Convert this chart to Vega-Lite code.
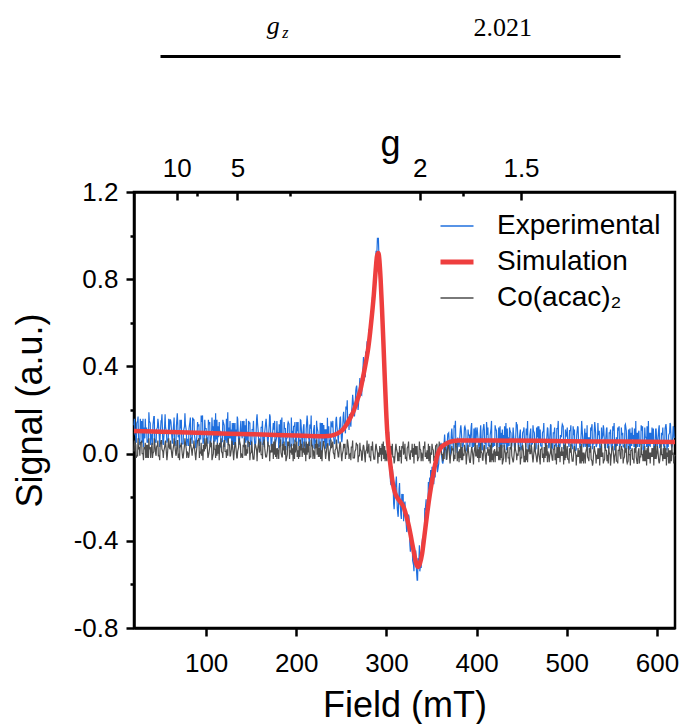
{
"$schema": "https://vega.github.io/schema/vega-lite/v6.json",
"autosize": {"type": "pad"},
"padding": {"left": 10, "top": 0, "right": 0, "bottom": 0},
"background": "white",
"spacing": 136,
"bounds": "flush",
"config": {"font": "Liberation Sans", "view": {"stroke": null},
 "axis": {"labelFont": "Liberation Sans", "titleFont": "Liberation Sans", "labelColor": "black", "titleColor": "black", "tickColor": "black", "domainColor": "black", "domainWidth": 2.5, "tickWidth": 2.5, "grid": false, "titleFontWeight": "normal", "labelFontSize": 26, "titleFontSize": 36, "labelOverlap": false, "labelFlush": false}},
"datasets": {
"spec": [
{"x":20,"e":0.13,"c":0.01},{"x":22,"e":0.08,"c":0.04},{"x":24,"e":0.15,"c":-0.01},{"x":26,"e":0.06,"c":0.03},{"x":28,"e":0.11,"c":0.05},{"x":30,"e":0.16,"c":0},{"x":32,"e":0.07,"c":0.02},{"x":34,"e":0.12,"c":0.04},{"x":36,"e":0.05,"c":-0.02},{"x":38,"e":0.14,"c":0.03},
{"x":40,"e":0.09,"c":0.05},{"x":42,"e":0.17,"c":0.01},{"x":44,"e":0.06,"c":0},{"x":46,"e":0.12,"c":0.04},{"x":48,"e":0.08,"c":-0.01},{"x":50,"e":0.15,"c":0.06},{"x":52,"e":0.05,"c":0.01},{"x":54,"e":0.13,"c":0.03},{"x":56,"e":0.10,"c":0},{"x":58,"e":0.07,"c":0.05},
{"x":60,"e":0.155,"c":0.02},{"x":62,"e":0.075,"c":-0.01},{"x":64,"e":0.135,"c":0.04},{"x":66,"e":0.055,"c":0.01},{"x":68,"e":0.185,"c":0.06},{"x":70,"e":0.085,"c":0},{"x":72,"e":0.115,"c":0.03},{"x":74,"e":0.045,"c":-0.02},{"x":76,"e":0.125,"c":0.04},{"x":78,"e":0.105,"c":0.02},
{"x":80,"e":0.065,"c":0},{"x":82,"e":0.145,"c":0.05},{"x":84,"e":0.075,"c":0.01},{"x":86,"e":0.155,"c":0.03},{"x":88,"e":0.055,"c":-0.01},{"x":90,"e":0.095,"c":0.04},{"x":92,"e":0.135,"c":0.07},{"x":94,"e":0.065,"c":0},{"x":96,"e":0.175,"c":0.02},{"x":98,"e":0.075,"c":0.01},
{"x":100,"e":0.115,"c":0.04},{"x":102,"e":0.045,"c":-0.02},{"x":104,"e":0.145,"c":0.03},{"x":106,"e":0.085,"c":0.05},{"x":108,"e":0.125,"c":0},{"x":110,"e":0.055,"c":0.02},{"x":112,"e":0.155,"c":-0.01},{"x":114,"e":0.075,"c":0.04},{"x":116,"e":0.105,"c":0.03},{"x":118,"e":0.055,"c":0},
{"x":120,"e":0.13,"c":0.06},{"x":122,"e":0.06,"c":0.01},{"x":124,"e":0.19,"c":-0.01},{"x":126,"e":0.07,"c":0.04},{"x":128,"e":0.11,"c":0.02},{"x":130,"e":0.04,"c":0},{"x":132,"e":0.14,"c":0.05},{"x":134,"e":0.08,"c":-0.02},{"x":136,"e":0.06,"c":0.03},{"x":138,"e":0.12,"c":0.04},
{"x":140,"e":0.07,"c":-0.01},{"x":142,"e":0.15,"c":0.03},{"x":144,"e":0.05,"c":0.04},{"x":146,"e":0.10,"c":0},{"x":148,"e":0.14,"c":0.05},{"x":150,"e":0.06,"c":0.005},{"x":152,"e":0.11,"c":-0.025},{"x":154,"e":0.04,"c":0.035},{"x":156,"e":0.16,"c":0.015},{"x":158,"e":0.09,"c":0.045},
{"x":160,"e":0.05,"c":0.025},{"x":162,"e":0.12,"c":-0.005},{"x":164,"e":0.08,"c":0.055},{"x":166,"e":0.14,"c":-0.015},{"x":168,"e":0.06,"c":0.015},{"x":170,"e":0.13,"c":0.035},{"x":172,"e":0.04,"c":0.005},{"x":174,"e":0.11,"c":0.045},{"x":176,"e":0.15,"c":-0.005},{"x":178,"e":0.07,"c":0.025},
{"x":180,"e":0.095,"c":0.005},{"x":182,"e":0.045,"c":0.045},{"x":184,"e":0.165,"c":-0.015},{"x":186,"e":0.055,"c":0.015},{"x":188,"e":0.115,"c":0.035},{"x":190,"e":0.075,"c":-0.005},{"x":192,"e":0.135,"c":0.055},{"x":194,"e":0.035,"c":0.005},{"x":196,"e":0.105,"c":0.025},{"x":198,"e":0.125,"c":-0.025},
{"x":200,"e":0.055,"c":0.035},{"x":202,"e":0.145,"c":0.015},{"x":204,"e":0.065,"c":-0.015},{"x":206,"e":0.085,"c":0.045},{"x":208,"e":0.125,"c":0.005},{"x":210,"e":0.045,"c":0.025},{"x":212,"e":0.175,"c":-0.005},{"x":214,"e":0.065,"c":0.055},{"x":216,"e":0.115,"c":-0.015},{"x":218,"e":0.035,"c":0.035},
{"x":220,"e":0.131,"c":-0.005},{"x":222,"e":0.051,"c":0.025},{"x":224,"e":0.10,"c":0.045},{"x":226,"e":0.04,"c":-0.015},{"x":228,"e":0.14,"c":0.015},{"x":230,"e":0.07,"c":0.055},{"x":232,"e":0.112,"c":0.005},{"x":234,"e":0.033,"c":0.035},{"x":236,"e":0.125,"c":-0.025},{"x":238,"e":0.067,"c":0.025},
{"x":240,"e":0.12,"c":0.045},{"x":242,"e":0.053,"c":-0.005},{"x":244,"e":0.157,"c":0.025},{"x":246,"e":0.084,"c":0.005},{"x":248,"e":0.122,"c":0.035},{"x":250,"e":0.07,"c":-0.015},{"x":252,"e":0.17,"c":0.015},{"x":254,"e":0.11,"c":0.045},{"x":256,"e":0.202,"c":-0.005},{"x":258,"e":0.155,"c":0.02},
{"x":260,"e":0.14,"c":0},{"x":262,"e":0.225,"c":0.03},{"x":264,"e":0.195,"c":-0.02},{"x":266,"e":0.29,"c":0.02},{"x":268,"e":0.235,"c":0.04},{"x":270,"e":0.31,"c":-0.01},{"x":272,"e":0.27,"c":0.01},{"x":274,"e":0.395,"c":0.03},{"x":276,"e":0.38,"c":-0.02},{"x":278,"e":0.47,"c":0.02},
{"x":280,"e":0.47,"c":0.025},{"x":282,"e":0.61,"c":-0.015},{"x":284,"e":0.63,"c":0.015},{"x":286,"e":0.79,"c":-0.025},{"x":288,"e":0.89,"c":0.035},{"x":290,"e":0.99,"c":0.005},{"x":292,"e":0.86,"c":-0.015},{"x":294,"e":0.80,"c":0.025},{"x":296,"e":0.54,"c":-0.005},{"x":298,"e":0.40,"c":0.035},
{"x":300,"e":0.14,"c":-0.025},{"x":302,"e":0.08,"c":0.015},{"x":304,"e":-0.08,"c":0.035},{"x":306,"e":-0.07,"c":-0.005},{"x":308,"e":-0.23,"c":-0.015},{"x":310,"e":-0.15,"c":0.025},{"x":312,"e":-0.25,"c":0.005},{"x":314,"e":-0.16,"c":-0.035},{"x":316,"e":-0.28,"c":0.015},{"x":318,"e":-0.22,"c":0.025},
{"x":320,"e":-0.23,"c":0.015},{"x":322,"e":-0.33,"c":-0.015},{"x":324,"e":-0.29,"c":0.035},{"x":326,"e":-0.42,"c":-0.025},{"x":328,"e":-0.39,"c":0.005},{"x":330,"e":-0.51,"c":0.025},{"x":332,"e":-0.48,"c":-0.005},{"x":334,"e":-0.58,"c":0.035},{"x":336,"e":-0.49,"c":-0.015},{"x":338,"e":-0.50,"c":0.015},
{"x":340,"e":-0.39,"c":-0.015},{"x":342,"e":-0.38,"c":0.025},{"x":344,"e":-0.21,"c":0.005},{"x":346,"e":-0.23,"c":-0.025},{"x":348,"e":-0.11,"c":0.035},{"x":350,"e":-0.14,"c":-0.005},{"x":352,"e":-0.06,"c":0.015},{"x":354,"e":-0.11,"c":-0.015},{"x":356,"e":0,"c":0.045},{"x":358,"e":-0.045,"c":-0.005},
{"x":360,"e":0.015,"c":0.025},{"x":362,"e":-0.04,"c":-0.005},{"x":364,"e":0.055,"c":-0.025},{"x":366,"e":0.01,"c":0.015},{"x":368,"e":0.09,"c":0.035},{"x":370,"e":0.02,"c":-0.015},{"x":372,"e":0.095,"c":0.005},{"x":374,"e":0.038,"c":0.025},{"x":376,"e":0.12,"c":-0.025},{"x":378,"e":0.032,"c":0.045},
{"x":380,"e":0.045,"c":0.01},{"x":382,"e":0.115,"c":-0.02},{"x":384,"e":0.035,"c":0.03},{"x":386,"e":0.075,"c":-0.01},{"x":388,"e":0.105,"c":0},{"x":390,"e":0.025,"c":0.02},{"x":392,"e":0.085,"c":-0.03},{"x":394,"e":0.125,"c":0.01},{"x":396,"e":0.055,"c":-0.02},{"x":398,"e":0.035,"c":0.03},
{"x":400,"e":0.105,"c":-0.01},{"x":402,"e":0.045,"c":0.02},{"x":404,"e":0.095,"c":-0.02},{"x":406,"e":0.015,"c":0},{"x":408,"e":0.135,"c":0.03},{"x":410,"e":0.055,"c":-0.03},{"x":412,"e":0.085,"c":0.01},{"x":414,"e":0.035,"c":0.02},{"x":416,"e":0.115,"c":-0.04},{"x":418,"e":0.065,"c":0},
{"x":420,"e":0.035,"c":0.02},{"x":422,"e":0.105,"c":-0.01},{"x":424,"e":0.055,"c":0.01},{"x":426,"e":0.125,"c":-0.03},{"x":428,"e":0.025,"c":0.04},{"x":430,"e":0.085,"c":-0.02},{"x":432,"e":0.045,"c":0},{"x":434,"e":0.115,"c":0.01},{"x":436,"e":0.035,"c":-0.02},{"x":438,"e":0.095,"c":0.02},
{"x":440,"e":0.075,"c":-0.03},{"x":442,"e":0.025,"c":0.02},{"x":444,"e":0.145,"c":0},{"x":446,"e":0.045,"c":-0.01},{"x":448,"e":0.095,"c":0.03},{"x":450,"e":0.035,"c":-0.02},{"x":452,"e":0.105,"c":0.01},{"x":454,"e":0.055,"c":-0.04},{"x":456,"e":0.085,"c":0.02},{"x":458,"e":0.015,"c":0.01},
{"x":460,"e":0.115,"c":0},{"x":462,"e":0.045,"c":-0.02},{"x":464,"e":0.095,"c":0.03},{"x":466,"e":0.025,"c":-0.01},{"x":468,"e":0.125,"c":0.01},{"x":470,"e":0.065,"c":-0.03},{"x":472,"e":0.035,"c":0.02},{"x":474,"e":0.105,"c":0},{"x":476,"e":0.045,"c":-0.02},{"x":478,"e":0.085,"c":0.04},
{"x":480,"e":0.025,"c":-0.01},{"x":482,"e":0.135,"c":0.01},{"x":484,"e":0.055,"c":-0.03},{"x":486,"e":0.095,"c":0.02},{"x":488,"e":0.035,"c":0},{"x":490,"e":0.115,"c":-0.02},{"x":492,"e":0.045,"c":0.03},{"x":494,"e":0.075,"c":-0.01},{"x":496,"e":0.125,"c":0.01},{"x":498,"e":0.025,"c":-0.03},
{"x":500,"e":0.095,"c":0.015},{"x":502,"e":0.045,"c":-0.025},{"x":504,"e":0.105,"c":0.005},{"x":506,"e":0.035,"c":-0.035},{"x":508,"e":0.085,"c":0.025},{"x":510,"e":0.015,"c":-0.005},{"x":512,"e":0.125,"c":-0.015},{"x":514,"e":0.055,"c":0.015},{"x":516,"e":0.095,"c":-0.045},{"x":518,"e":0.045,"c":0.005},
{"x":520,"e":0.115,"c":-0.015},{"x":522,"e":0.035,"c":0.025},{"x":524,"e":0.075,"c":-0.025},{"x":526,"e":0.025,"c":0.005},{"x":528,"e":0.135,"c":-0.035},{"x":530,"e":0.045,"c":0.015},{"x":532,"e":0.095,"c":-0.005},{"x":534,"e":0.055,"c":-0.025},{"x":536,"e":0.105,"c":0.025},{"x":538,"e":0.035,"c":-0.015},
{"x":540,"e":0.085,"c":0.005},{"x":542,"e":0.025,"c":-0.025},{"x":544,"e":0.115,"c":0.015},{"x":546,"e":0.045,"c":-0.045},{"x":548,"e":0.095,"c":-0.005},{"x":550,"e":0.015,"c":0.025},{"x":552,"e":0.105,"c":-0.015},{"x":554,"e":0.065,"c":0.005},{"x":556,"e":0.035,"c":-0.035},{"x":558,"e":0.125,"c":0.015},
{"x":560,"e":0.045,"c":-0.025},{"x":562,"e":0.095,"c":0.015},{"x":564,"e":0.025,"c":-0.015},{"x":566,"e":0.105,"c":0.025},{"x":568,"e":0.055,"c":-0.035},{"x":570,"e":0.115,"c":-0.005},{"x":572,"e":0.035,"c":0.015},{"x":574,"e":0.085,"c":-0.025},{"x":576,"e":0.015,"c":0.005},{"x":578,"e":0.095,"c":-0.045},
{"x":580,"e":0.105,"c":0.025},{"x":582,"e":0.045,"c":-0.015},{"x":584,"e":0.125,"c":-0.005},{"x":586,"e":0.035,"c":-0.035},{"x":588,"e":0.075,"c":0.015},{"x":590,"e":0.025,"c":-0.025},{"x":592,"e":0.095,"c":0.005},{"x":594,"e":0.055,"c":-0.015},{"x":596,"e":0.115,"c":0.025},{"x":598,"e":0.045,"c":-0.025},
{"x":600,"e":0.035,"c":0.005},{"x":602,"e":0.115,"c":-0.035},{"x":604,"e":0.055,"c":0.015},{"x":606,"e":0.085,"c":-0.005},{"x":608,"e":0.025,"c":-0.025},{"x":610,"e":0.135,"c":0.025},{"x":612,"e":0.045,"c":-0.015},{"x":614,"e":0.095,"c":0.015},{"x":616,"e":0.035,"c":-0.035},{"x":618,"e":0.125,"c":0.005},
{"x":620,"e":0.075,"c":-0.005},
{"x":21,"e":0.09,"c":0.04},{"x":23,"e":0.14,"c":-0.01},{"x":25,"e":0.07,"c":0.02},{"x":27,"e":0.16,"c":0.05},{"x":29,"e":0.05,"c":0},{"x":31,"e":0.12,"c":0.03},{"x":33,"e":0.10,"c":-0.02},{"x":35,"e":0.06,"c":0.04},{"x":37,"e":0.15,"c":0.02},{"x":39,"e":0.08,"c":0.01},
{"x":41,"e":0.13,"c":0},{"x":43,"e":0.05,"c":0.05},{"x":45,"e":0.11,"c":0.03},{"x":47,"e":0.14,"c":-0.01},{"x":49,"e":0.08,"c":0.04},{"x":51,"e":0.18,"c":0.02},{"x":53,"e":0.07,"c":0.01},{"x":55,"e":0.12,"c":0.06},{"x":57,"e":0.06,"c":-0.01},{"x":59,"e":0.10,"c":0.03},
{"x":61,"e":0.145,"c":0.03},{"x":63,"e":0.085,"c":0.01},{"x":65,"e":0.055,"c":0.05},{"x":67,"e":0.125,"c":0},{"x":69,"e":0.075,"c":-0.02},{"x":71,"e":0.155,"c":0.04},{"x":73,"e":0.045,"c":0.02},{"x":75,"e":0.105,"c":0},{"x":77,"e":0.135,"c":0.05},{"x":79,"e":0.065,"c":0.01},
{"x":81,"e":0.115,"c":-0.01},{"x":83,"e":0.065,"c":0.04},{"x":85,"e":0.165,"c":0.02},{"x":87,"e":0.085,"c":0.03},{"x":89,"e":0.045,"c":0},{"x":91,"e":0.125,"c":0.06},{"x":93,"e":0.095,"c":0.01},{"x":95,"e":0.145,"c":-0.01},{"x":97,"e":0.055,"c":0.04},{"x":99,"e":0.115,"c":0.02},
{"x":101,"e":0.075,"c":0.05},{"x":103,"e":0.135,"c":0},{"x":105,"e":0.045,"c":0.03},{"x":107,"e":0.105,"c":-0.02},{"x":109,"e":0.155,"c":0.02},{"x":111,"e":0.065,"c":0.04},{"x":113,"e":0.125,"c":0},{"x":115,"e":0.085,"c":0.05},{"x":117,"e":0.055,"c":0.01},{"x":119,"e":0.145,"c":0.03},
{"x":121,"e":0.09,"c":0.01},{"x":123,"e":0.05,"c":0.02},{"x":125,"e":0.12,"c":0.04},{"x":127,"e":0.07,"c":-0.01},{"x":129,"e":0.14,"c":0.05},{"x":131,"e":0.04,"c":0},{"x":133,"e":0.11,"c":0.03},{"x":135,"e":0.16,"c":0.01},{"x":137,"e":0.06,"c":0.06},{"x":139,"e":0.10,"c":0},
{"x":141,"e":0.08,"c":0.04},{"x":143,"e":0.13,"c":-0.01},{"x":145,"e":0.06,"c":0.02},{"x":147,"e":0.15,"c":0.05},{"x":149,"e":0.04,"c":0},{"x":151,"e":0.11,"c":0.025},{"x":153,"e":0.09,"c":-0.025},{"x":155,"e":0.05,"c":0.035},{"x":157,"e":0.14,"c":0.015},{"x":159,"e":0.07,"c":0.005},
{"x":161,"e":0.12,"c":-0.005},{"x":163,"e":0.04,"c":0.045},{"x":165,"e":0.10,"c":0.025},{"x":167,"e":0.13,"c":-0.015},{"x":169,"e":0.07,"c":0.035},{"x":171,"e":0.17,"c":0.015},{"x":173,"e":0.06,"c":0.005},{"x":175,"e":0.11,"c":0.055},{"x":177,"e":0.05,"c":-0.015},{"x":179,"e":0.09,"c":0.025},
{"x":181,"e":0.135,"c":0.025},{"x":183,"e":0.075,"c":0.005},{"x":185,"e":0.045,"c":0.045},{"x":187,"e":0.115,"c":-0.005},{"x":189,"e":0.065,"c":-0.025},{"x":191,"e":0.145,"c":0.035},{"x":193,"e":0.035,"c":0.015},{"x":195,"e":0.095,"c":-0.005},{"x":197,"e":0.125,"c":0.045},{"x":199,"e":0.055,"c":0.005},
{"x":201,"e":0.103,"c":-0.015},{"x":203,"e":0.053,"c":0.035},{"x":205,"e":0.153,"c":0.015},{"x":207,"e":0.073,"c":0.025},{"x":209,"e":0.033,"c":-0.005},{"x":211,"e":0.113,"c":0.055},{"x":213,"e":0.083,"c":0.005},{"x":215,"e":0.133,"c":-0.015},{"x":217,"e":0.043,"c":0.035},{"x":219,"e":0.103,"c":0.015},
{"x":221,"e":0.061,"c":0.045},{"x":223,"e":0.12,"c":-0.005},{"x":225,"e":0.03,"c":0.025},{"x":227,"e":0.09,"c":-0.025},{"x":229,"e":0.14,"c":0.015},{"x":231,"e":0.051,"c":0.035},{"x":233,"e":0.112,"c":-0.005},{"x":235,"e":0.074,"c":0.045},{"x":237,"e":0.046,"c":0.005},{"x":239,"e":0.138,"c":0.025},
{"x":241,"e":0.091,"c":0.005},{"x":243,"e":0.055,"c":0.015},{"x":245,"e":0.13,"c":0.035},{"x":247,"e":0.088,"c":-0.015},{"x":249,"e":0.166,"c":0.045},{"x":251,"e":0.075,"c":-0.005},{"x":253,"e":0.155,"c":0.025},{"x":255,"e":0.216,"c":0.005},{"x":257,"e":0.128,"c":0.055},{"x":259,"e":0.182,"c":-0.005},
{"x":261,"e":0.177,"c":0.03},{"x":263,"e":0.245,"c":-0.02},{"x":265,"e":0.197,"c":0.01},{"x":267,"e":0.312,"c":0.04},{"x":269,"e":0.227,"c":-0.01},{"x":271,"e":0.325,"c":0.02},{"x":273,"e":0.337,"c":-0.03},{"x":275,"e":0.332,"c":0.03},{"x":277,"e":0.465,"c":0.01},{"x":279,"e":0.45,"c":0},
{"x":281,"e":0.565,"c":-0.015},{"x":283,"e":0.56,"c":0.035},{"x":285,"e":0.705,"c":0.015},{"x":287,"e":0.84,"c":-0.025},{"x":289,"e":0.88,"c":0.025},{"x":291,"e":0.99,"c":0.005},{"x":293,"e":0.80,"c":-0.005},{"x":295,"e":0.69,"c":0.045},{"x":297,"e":0.44,"c":-0.025},{"x":299,"e":0.27,"c":0.015},
{"x":301,"e":0.17,"c":0.015},{"x":303,"e":-0.025,"c":-0.005},{"x":305,"e":-0.145,"c":0.035},{"x":307,"e":-0.095,"c":-0.015},{"x":309,"e":-0.21,"c":-0.035},{"x":311,"e":-0.105,"c":0.025},{"x":313,"e":-0.29,"c":0.005},{"x":315,"e":-0.21,"c":-0.015},{"x":317,"e":-0.185,"c":0.035},{"x":319,"e":-0.31,"c":-0.005},
{"x":321,"e":-0.265,"c":-0.025},{"x":323,"e":-0.35,"c":0.025},{"x":325,"e":-0.29,"c":0.005},{"x":327,"e":-0.41,"c":0.015},{"x":329,"e":-0.49,"c":-0.015},{"x":331,"e":-0.45,"c":0.045},{"x":333,"e":-0.515,"c":-0.005},{"x":335,"e":-0.48,"c":-0.025},{"x":337,"e":-0.54,"c":0.025},{"x":339,"e":-0.43,"c":0.005},
{"x":341,"e":-0.40,"c":0.035},{"x":343,"e":-0.26,"c":-0.015},{"x":345,"e":-0.28,"c":0.015},{"x":347,"e":-0.165,"c":-0.035},{"x":349,"e":-0.075,"c":0.005},{"x":351,"e":-0.135,"c":0.025},{"x":353,"e":-0.045,"c":-0.015},{"x":355,"e":-0.06,"c":0.035},{"x":357,"e":-0.072,"c":-0.005},{"x":359,"e":0.03,"c":0.015},
{"x":361,"e":-0.008,"c":-0.005},{"x":363,"e":-0.032,"c":0.005},{"x":365,"e":0.052,"c":0.025},{"x":367,"e":0.015,"c":-0.025},{"x":369,"e":0.095,"c":0.035},{"x":371,"e":0.002,"c":-0.015},{"x":373,"e":0.076,"c":0.015},{"x":375,"e":0.13,"c":-0.005},{"x":377,"e":0.032,"c":0.045},{"x":379,"e":0.074,"c":-0.015},
{"x":381,"e":0.055,"c":0.02},{"x":383,"e":0.105,"c":-0.03},{"x":385,"e":0.035,"c":0},{"x":387,"e":0.125,"c":0.03},{"x":389,"e":0.015,"c":-0.02},{"x":391,"e":0.085,"c":0.01},{"x":393,"e":0.065,"c":-0.04},{"x":395,"e":0.025,"c":0.02},{"x":397,"e":0.115,"c":0},{"x":399,"e":0.045,"c":-0.01},
{"x":401,"e":0.095,"c":-0.02},{"x":403,"e":0.015,"c":0.03},{"x":405,"e":0.075,"c":0.01},{"x":407,"e":0.105,"c":-0.03},{"x":409,"e":0.045,"c":0.02},{"x":411,"e":0.145,"c":0},{"x":413,"e":0.035,"c":-0.01},{"x":415,"e":0.085,"c":0.04},{"x":417,"e":0.025,"c":-0.03},{"x":419,"e":0.065,"c":0.01},
{"x":421,"e":0.115,"c":0.01},{"x":423,"e":0.055,"c":-0.01},{"x":425,"e":0.025,"c":0.03},{"x":427,"e":0.095,"c":-0.02},{"x":429,"e":0.045,"c":-0.04},{"x":431,"e":0.125,"c":0.02},{"x":433,"e":0.015,"c":0},{"x":435,"e":0.075,"c":-0.02},{"x":437,"e":0.105,"c":0.03},{"x":439,"e":0.035,"c":-0.01},
{"x":441,"e":0.085,"c":-0.03},{"x":443,"e":0.035,"c":0.02},{"x":445,"e":0.135,"c":0},{"x":447,"e":0.055,"c":0.01},{"x":449,"e":0.015,"c":-0.02},{"x":451,"e":0.095,"c":0.04},{"x":453,"e":0.065,"c":-0.01},{"x":455,"e":0.115,"c":-0.03},{"x":457,"e":0.025,"c":0.02},{"x":459,"e":0.085,"c":0},
{"x":461,"e":0.045,"c":0.03},{"x":463,"e":0.105,"c":-0.02},{"x":465,"e":0.015,"c":0.01},{"x":467,"e":0.075,"c":-0.04},{"x":469,"e":0.125,"c":0},{"x":471,"e":0.035,"c":0.02},{"x":473,"e":0.095,"c":-0.02},{"x":475,"e":0.055,"c":0.03},{"x":477,"e":0.025,"c":-0.01},{"x":479,"e":0.115,"c":0.01},
{"x":481,"e":0.065,"c":-0.01},{"x":483,"e":0.025,"c":0},{"x":485,"e":0.095,"c":0.02},{"x":487,"e":0.045,"c":-0.03},{"x":489,"e":0.115,"c":0.03},{"x":491,"e":0.015,"c":-0.02},{"x":493,"e":0.085,"c":0.01},{"x":495,"e":0.135,"c":-0.01},{"x":497,"e":0.035,"c":0.04},{"x":499,"e":0.075,"c":-0.02},
{"x":501,"e":0.055,"c":-0.025},{"x":503,"e":0.105,"c":0.025},{"x":505,"e":0.035,"c":0.005},{"x":507,"e":0.125,"c":-0.035},{"x":509,"e":0.015,"c":0.015},{"x":511,"e":0.085,"c":-0.005},{"x":513,"e":0.065,"c":-0.015},{"x":515,"e":0.025,"c":0.035},{"x":517,"e":0.115,"c":-0.035},{"x":519,"e":0.045,"c":0.005},
{"x":521,"e":0.095,"c":0.005},{"x":523,"e":0.015,"c":-0.015},{"x":525,"e":0.075,"c":0.025},{"x":527,"e":0.105,"c":-0.025},{"x":529,"e":0.045,"c":-0.045},{"x":531,"e":0.145,"c":0.015},{"x":533,"e":0.035,"c":-0.005},{"x":535,"e":0.085,"c":-0.025},{"x":537,"e":0.025,"c":0.025},{"x":539,"e":0.065,"c":-0.015},
{"x":541,"e":0.115,"c":-0.035},{"x":543,"e":0.055,"c":0.015},{"x":545,"e":0.025,"c":-0.005},{"x":547,"e":0.095,"c":0.005},{"x":549,"e":0.045,"c":-0.025},{"x":551,"e":0.125,"c":0.035},{"x":553,"e":0.015,"c":-0.015},{"x":555,"e":0.075,"c":-0.035},{"x":557,"e":0.105,"c":0.015},{"x":559,"e":0.035,"c":-0.005},
{"x":561,"e":0.085,"c":0.025},{"x":563,"e":0.035,"c":-0.025},{"x":565,"e":0.135,"c":0.005},{"x":567,"e":0.055,"c":-0.045},{"x":569,"e":0.015,"c":-0.005},{"x":571,"e":0.095,"c":0.015},{"x":573,"e":0.065,"c":-0.025},{"x":575,"e":0.115,"c":0.025},{"x":577,"e":0.025,"c":-0.015},{"x":579,"e":0.085,"c":0.005},
{"x":581,"e":0.045,"c":-0.015},{"x":583,"e":0.105,"c":-0.005},{"x":585,"e":0.015,"c":0.015},{"x":587,"e":0.075,"c":-0.035},{"x":589,"e":0.125,"c":0.025},{"x":591,"e":0.035,"c":-0.025},{"x":593,"e":0.095,"c":0.005},{"x":595,"e":0.055,"c":-0.015},{"x":597,"e":0.025,"c":0.035},{"x":599,"e":0.115,"c":-0.025},
{"x":601,"e":0.065,"c":0.015},{"x":603,"e":0.025,"c":-0.035},{"x":605,"e":0.095,"c":-0.005},{"x":607,"e":0.045,"c":0.025},{"x":609,"e":0.115,"c":-0.025},{"x":611,"e":0.015,"c":0.005},{"x":613,"e":0.085,"c":-0.045},{"x":615,"e":0.135,"c":0.015},{"x":617,"e":0.035,"c":-0.005},{"x":619,"e":0.075,"c":-0.015},
{"x":20.5,"e":0.16,"c":0.06},{"x":22.5,"e":0.05,"c":-0.02},{"x":24.5,"e":0.17,"c":0.07},{"x":26.5,"e":0.04,"c":-0.01},{"x":28.5,"e":0.15,"c":0.06},{"x":30.5,"e":0.03,"c":-0.03},{"x":32.5,"e":0.16,"c":0.05},{"x":34.5,"e":0.05,"c":-0.02},{"x":36.5,"e":0.19,"c":0.07},{"x":38.5,"e":0.04,"c":-0.02},
{"x":40.5,"e":0.04,"c":-0.02},{"x":42.5,"e":0.17,"c":0.07},{"x":44.5,"e":0.05,"c":-0.01},{"x":46.5,"e":0.16,"c":0.06},{"x":48.5,"e":0.03,"c":-0.03},{"x":50.5,"e":0.15,"c":0.06},{"x":52.5,"e":0.04,"c":-0.02},{"x":54.5,"e":0.18,"c":0.05},{"x":56.5,"e":0.05,"c":-0.03},{"x":58.5,"e":0.16,"c":0.07},
{"x":60.5,"e":0.155,"c":0.06},{"x":62.5,"e":0.045,"c":-0.02},{"x":64.5,"e":0.165,"c":0.07},{"x":66.5,"e":0.035,"c":-0.01},{"x":68.5,"e":0.145,"c":0.06},{"x":70.5,"e":0.025,"c":-0.03},{"x":72.5,"e":0.155,"c":0.05},{"x":74.5,"e":0.045,"c":-0.02},{"x":76.5,"e":0.185,"c":0.07},{"x":78.5,"e":0.035,"c":-0.02},
{"x":80.5,"e":0.035,"c":-0.02},{"x":82.5,"e":0.165,"c":0.07},{"x":84.5,"e":0.045,"c":-0.01},{"x":86.5,"e":0.155,"c":0.06},{"x":88.5,"e":0.025,"c":-0.03},{"x":90.5,"e":0.145,"c":0.06},{"x":92.5,"e":0.035,"c":-0.02},{"x":94.5,"e":0.175,"c":0.05},{"x":96.5,"e":0.045,"c":-0.03},{"x":98.5,"e":0.155,"c":0.07},
{"x":100.5,"e":0.045,"c":0.07},{"x":102.5,"e":0.155,"c":-0.01},{"x":104.5,"e":0.035,"c":0.06},{"x":106.5,"e":0.165,"c":-0.03},{"x":108.5,"e":0.045,"c":0.06},{"x":110.5,"e":0.185,"c":-0.02},{"x":112.5,"e":0.035,"c":0.05},{"x":114.5,"e":0.145,"c":-0.03},{"x":116.5,"e":0.025,"c":0.07},{"x":118.5,"e":0.155,"c":-0.02},
{"x":120.5,"e":0.03,"c":0.06},{"x":122.5,"e":0.16,"c":-0.02},{"x":124.5,"e":0.04,"c":0.07},{"x":126.5,"e":0.15,"c":-0.01},{"x":128.5,"e":0.02,"c":0.06},{"x":130.5,"e":0.14,"c":-0.03},{"x":132.5,"e":0.03,"c":0.05},{"x":134.5,"e":0.17,"c":-0.02},{"x":136.5,"e":0.04,"c":0.07},{"x":138.5,"e":0.15,"c":-0.02},
{"x":140.5,"e":0.15,"c":-0.02},{"x":142.5,"e":0.04,"c":0.07},{"x":144.5,"e":0.16,"c":-0.01},{"x":146.5,"e":0.03,"c":0.06},{"x":148.5,"e":0.14,"c":-0.03},{"x":150.5,"e":0.02,"c":0.055},{"x":152.5,"e":0.15,"c":-0.025},{"x":154.5,"e":0.04,"c":0.045},{"x":156.5,"e":0.18,"c":-0.035},{"x":158.5,"e":0.03,"c":0.065},
{"x":160.5,"e":0.04,"c":0.055},{"x":162.5,"e":0.15,"c":-0.025},{"x":164.5,"e":0.03,"c":0.065},{"x":166.5,"e":0.16,"c":-0.015},{"x":168.5,"e":0.04,"c":0.055},{"x":170.5,"e":0.18,"c":-0.035},{"x":172.5,"e":0.03,"c":0.045},{"x":174.5,"e":0.14,"c":-0.025},{"x":176.5,"e":0.02,"c":0.065},{"x":178.5,"e":0.15,"c":-0.025},
{"x":180.5,"e":0.025,"c":-0.025},{"x":182.5,"e":0.155,"c":0.065},{"x":184.5,"e":0.035,"c":-0.015},{"x":186.5,"e":0.145,"c":0.055},{"x":188.5,"e":0.015,"c":-0.035},{"x":190.5,"e":0.135,"c":0.055},{"x":192.5,"e":0.025,"c":-0.025},{"x":194.5,"e":0.165,"c":0.045},{"x":196.5,"e":0.035,"c":-0.035},{"x":198.5,"e":0.145,"c":0.065},
{"x":200.5,"e":0.145,"c":0.055},{"x":202.5,"e":0.035,"c":-0.025},{"x":204.5,"e":0.155,"c":0.065},{"x":206.5,"e":0.025,"c":-0.015},{"x":208.5,"e":0.135,"c":0.055},{"x":210.5,"e":0.015,"c":-0.035},{"x":212.5,"e":0.145,"c":0.045},{"x":214.5,"e":0.035,"c":-0.025},{"x":216.5,"e":0.175,"c":0.065},{"x":218.5,"e":0.025,"c":-0.025},
{"x":220.5,"e":0.021,"c":-0.025},{"x":222.5,"e":0.151,"c":0.065},{"x":224.5,"e":0.031,"c":-0.015},{"x":226.5,"e":0.141,"c":0.055},{"x":228.5,"e":0.011,"c":-0.035},{"x":230.5,"e":0.131,"c":0.055},{"x":232.5,"e":0.022,"c":-0.025},{"x":234.5,"e":0.164,"c":0.045},{"x":236.5,"e":0.036,"c":-0.035},{"x":238.5,"e":0.148,"c":0.065},
{"x":240.5,"e":0.15,"c":0.055},{"x":242.5,"e":0.044,"c":-0.025},{"x":244.5,"e":0.169,"c":0.065},{"x":246.5,"e":0.046,"c":-0.015},{"x":248.5,"e":0.164,"c":0.055},{"x":250.5,"e":0.052,"c":-0.035},{"x":252.5,"e":0.192,"c":0.045},{"x":254.5,"e":0.093,"c":-0.025},{"x":256.5,"e":0.245,"c":0.065},{"x":258.5,"e":0.108,"c":-0.025},
{"x":260.5,"e":0.123,"c":-0.03},{"x":262.5,"e":0.27,"c":0.06},{"x":264.5,"e":0.17,"c":-0.02},{"x":266.5,"e":0.305,"c":0.05},{"x":268.5,"e":0.20,"c":-0.04},{"x":270.5,"e":0.347,"c":0.05},{"x":272.5,"e":0.268,"c":-0.03},{"x":274.5,"e":0.443,"c":0.04},{"x":276.5,"e":0.35,"c":-0.04},{"x":278.5,"e":0.515,"c":0.06},
{"x":280.5,"e":0.57,"c":0.045},{"x":282.5,"e":0.54,"c":-0.035},{"x":284.5,"e":0.72,"c":0.055},{"x":286.5,"e":0.72,"c":-0.025},{"x":288.5,"e":0.93,"c":0.045},{"x":290.5,"e":0.97,"c":-0.045},{"x":292.5,"e":0.81,"c":0.035},{"x":294.5,"e":0.76,"c":-0.035},{"x":296.5,"e":0.48,"c":0.055},{"x":298.5,"e":0.38,"c":-0.035},
{"x":300.5,"e":0.06,"c":-0.035},{"x":302.5,"e":0.10,"c":0.055},{"x":304.5,"e":-0.13,"c":-0.025},{"x":306.5,"e":-0.06,"c":0.045},{"x":308.5,"e":-0.255,"c":-0.045},{"x":310.5,"e":-0.13,"c":0.045},{"x":312.5,"e":-0.275,"c":-0.035},{"x":314.5,"e":-0.135,"c":0.035},{"x":316.5,"e":-0.30,"c":-0.045},{"x":318.5,"e":-0.185,"c":0.055},
{"x":320.5,"e":-0.22,"c":0.045},{"x":322.5,"e":-0.36,"c":-0.035},{"x":324.5,"e":-0.28,"c":0.055},{"x":326.5,"e":-0.45,"c":-0.025},{"x":328.5,"e":-0.38,"c":0.045},{"x":330.5,"e":-0.54,"c":-0.045},{"x":332.5,"e":-0.445,"c":0.035},{"x":334.5,"e":-0.58,"c":-0.035},{"x":336.5,"e":-0.42,"c":0.055},{"x":338.5,"e":-0.525,"c":-0.035},
{"x":340.5,"e":-0.46,"c":-0.035},{"x":342.5,"e":-0.25,"c":0.055},{"x":344.5,"e":-0.295,"c":-0.025},{"x":346.5,"e":-0.13,"c":0.045},{"x":348.5,"e":-0.215,"c":-0.045},{"x":350.5,"e":-0.06,"c":0.045},{"x":352.5,"e":-0.14,"c":-0.035},{"x":354.5,"e":0.025,"c":0.035},{"x":356.5,"e":-0.085,"c":-0.045},{"x":358.5,"e":0.038,"c":0.055},
{"x":360.5,"e":0.05,"c":0.045},{"x":362.5,"e":-0.046,"c":-0.035},{"x":364.5,"e":0.088,"c":0.055},{"x":366.5,"e":-0.028,"c":-0.025},{"x":368.5,"e":0.092,"c":0.045},{"x":370.5,"e":-0.02,"c":-0.045},{"x":372.5,"e":0.115,"c":0.035},{"x":374.5,"e":0.009,"c":-0.035},{"x":376.5,"e":0.151,"c":0.055},{"x":378.5,"e":0.003,"c":-0.035},
{"x":380.5,"e":0.03,"c":-0.04},{"x":382.5,"e":0.13,"c":0.05},{"x":384.5,"e":0.03,"c":-0.03},{"x":386.5,"e":0.12,"c":0.04},{"x":388.5,"e":0.02,"c":-0.05},{"x":390.5,"e":0.11,"c":0.04},{"x":392.5,"e":0.03,"c":-0.04},{"x":394.5,"e":0.14,"c":0.03},{"x":396.5,"e":0.03,"c":-0.05},{"x":398.5,"e":0.12,"c":0.05},
{"x":400.5,"e":0.12,"c":0.04},{"x":402.5,"e":0.03,"c":-0.04},{"x":404.5,"e":0.13,"c":0.05},{"x":406.5,"e":0.02,"c":-0.03},{"x":408.5,"e":0.11,"c":0.04},{"x":410.5,"e":0.02,"c":-0.05},{"x":412.5,"e":0.12,"c":0.03},{"x":414.5,"e":0.03,"c":-0.04},{"x":416.5,"e":0.15,"c":0.05},{"x":418.5,"e":0.03,"c":-0.04},
{"x":420.5,"e":0.13,"c":-0.04},{"x":422.5,"e":0.03,"c":0.05},{"x":424.5,"e":0.12,"c":-0.03},{"x":426.5,"e":0.02,"c":0.04},{"x":428.5,"e":0.11,"c":-0.05},{"x":430.5,"e":0.03,"c":0.04},{"x":432.5,"e":0.14,"c":-0.04},{"x":434.5,"e":0.03,"c":0.03},{"x":436.5,"e":0.12,"c":-0.05},{"x":438.5,"e":0.03,"c":0.05},
{"x":440.5,"e":0.12,"c":-0.04},{"x":442.5,"e":0.03,"c":0.05},{"x":444.5,"e":0.13,"c":-0.03},{"x":446.5,"e":0.02,"c":0.04},{"x":448.5,"e":0.11,"c":-0.05},{"x":450.5,"e":0.02,"c":0.03},{"x":452.5,"e":0.12,"c":-0.04},{"x":454.5,"e":0.03,"c":0.05},{"x":456.5,"e":0.15,"c":-0.04},{"x":458.5,"e":0.03,"c":0.04},
{"x":460.5,"e":0.03,"c":0.04},{"x":462.5,"e":0.13,"c":-0.04},{"x":464.5,"e":0.03,"c":0.05},{"x":466.5,"e":0.12,"c":-0.03},{"x":468.5,"e":0.02,"c":0.04},{"x":470.5,"e":0.11,"c":-0.05},{"x":472.5,"e":0.03,"c":0.03},{"x":474.5,"e":0.14,"c":-0.04},{"x":476.5,"e":0.03,"c":0.05},{"x":478.5,"e":0.12,"c":-0.04},
{"x":480.5,"e":0.03,"c":-0.04},{"x":482.5,"e":0.13,"c":0.05},{"x":484.5,"e":0.02,"c":-0.03},{"x":486.5,"e":0.12,"c":0.04},{"x":488.5,"e":0.03,"c":-0.05},{"x":490.5,"e":0.15,"c":0.04},{"x":492.5,"e":0.03,"c":-0.04},{"x":494.5,"e":0.12,"c":0.03},{"x":496.5,"e":0.02,"c":-0.05},{"x":498.5,"e":0.11,"c":0.05},
{"x":500.5,"e":0.12,"c":0.035},{"x":502.5,"e":0.03,"c":-0.045},{"x":504.5,"e":0.13,"c":0.045},{"x":506.5,"e":0.02,"c":-0.035},{"x":508.5,"e":0.11,"c":0.035},{"x":510.5,"e":0.02,"c":-0.055},{"x":512.5,"e":0.12,"c":0.025},{"x":514.5,"e":0.03,"c":-0.045},{"x":516.5,"e":0.15,"c":0.045},{"x":518.5,"e":0.03,"c":-0.045},
{"x":520.5,"e":0.03,"c":-0.045},{"x":522.5,"e":0.13,"c":0.045},{"x":524.5,"e":0.03,"c":-0.035},{"x":526.5,"e":0.12,"c":0.035},{"x":528.5,"e":0.02,"c":-0.055},{"x":530.5,"e":0.11,"c":0.035},{"x":532.5,"e":0.03,"c":-0.045},{"x":534.5,"e":0.14,"c":0.025},{"x":536.5,"e":0.03,"c":-0.055},{"x":538.5,"e":0.12,"c":0.045},
{"x":540.5,"e":0.13,"c":-0.045},{"x":542.5,"e":0.03,"c":0.045},{"x":544.5,"e":0.12,"c":-0.035},{"x":546.5,"e":0.02,"c":0.035},{"x":548.5,"e":0.11,"c":-0.055},{"x":550.5,"e":0.03,"c":0.025},{"x":552.5,"e":0.14,"c":-0.045},{"x":554.5,"e":0.03,"c":0.045},{"x":556.5,"e":0.12,"c":-0.045},{"x":558.5,"e":0.03,"c":0.035},
{"x":560.5,"e":0.12,"c":0.035},{"x":562.5,"e":0.03,"c":-0.045},{"x":564.5,"e":0.13,"c":0.045},{"x":566.5,"e":0.02,"c":-0.035},{"x":568.5,"e":0.11,"c":0.035},{"x":570.5,"e":0.02,"c":-0.055},{"x":572.5,"e":0.12,"c":0.025},{"x":574.5,"e":0.03,"c":-0.045},{"x":576.5,"e":0.15,"c":0.045},{"x":578.5,"e":0.03,"c":-0.045},
{"x":580.5,"e":0.03,"c":-0.045},{"x":582.5,"e":0.13,"c":0.045},{"x":584.5,"e":0.02,"c":-0.035},{"x":586.5,"e":0.12,"c":0.035},{"x":588.5,"e":0.03,"c":-0.055},{"x":590.5,"e":0.15,"c":0.035},{"x":592.5,"e":0.03,"c":-0.045},{"x":594.5,"e":0.12,"c":0.025},{"x":596.5,"e":0.02,"c":-0.055},{"x":598.5,"e":0.11,"c":0.045},
{"x":600.5,"e":0.03,"c":0.035},{"x":602.5,"e":0.13,"c":-0.045},{"x":604.5,"e":0.03,"c":0.045},{"x":606.5,"e":0.12,"c":-0.035},{"x":608.5,"e":0.02,"c":0.035},{"x":610.5,"e":0.11,"c":-0.055},{"x":612.5,"e":0.03,"c":0.025},{"x":614.5,"e":0.14,"c":-0.045},{"x":616.5,"e":0.03,"c":0.045},{"x":618.5,"e":0.12,"c":-0.045}
],
"sim": [
{"x":20,"y":0.104},{"x":50,"y":0.100},{"x":100,"y":0.094},{"x":150,"y":0.089},{"x":200,"y":0.083},{"x":225,"y":0.080},{"x":235,"y":0.081},{"x":242,"y":0.086},{"x":248,"y":0.098},{"x":252,"y":0.112},{"x":256,"y":0.135},{"x":260,"y":0.165},{"x":264,"y":0.20},{"x":268,"y":0.25},{"x":271,"y":0.29},{"x":274,"y":0.35},{"x":277,"y":0.415},{"x":280,"y":0.49},{"x":282,"y":0.56},{"x":284,"y":0.64},{"x":286,"y":0.73},{"x":288,"y":0.84},{"x":289.5,"y":0.905},{"x":291,"y":0.92},{"x":292,"y":0.895},{"x":293.5,"y":0.80},{"x":295,"y":0.67},{"x":296.5,"y":0.52},{"x":298,"y":0.36},{"x":299.5,"y":0.21},{"x":301,"y":0.09},{"x":303,"y":0.0},{"x":305,"y":-0.075},{"x":307,"y":-0.135},{"x":309.5,"y":-0.18},{"x":312.5,"y":-0.205},{"x":316,"y":-0.225},{"x":319,"y":-0.245},{"x":322,"y":-0.285},{"x":325,"y":-0.335},{"x":328,"y":-0.40},{"x":331,"y":-0.465},{"x":333,"y":-0.505},{"x":335,"y":-0.52},{"x":337,"y":-0.505},{"x":339.5,"y":-0.46},{"x":342,"y":-0.38},{"x":345,"y":-0.28},{"x":348,"y":-0.19},{"x":351,"y":-0.115},{"x":354,"y":-0.05},{"x":357,"y":0.0},{"x":360,"y":0.025},{"x":364,"y":0.04},{"x":368,"y":0.05},{"x":373,"y":0.057},{"x":380,"y":0.06},{"x":420,"y":0.06},{"x":500,"y":0.057},{"x":560,"y":0.055},{"x":620,"y":0.053}
],
"header": [
{"col":"param","main":"g","sub":"z"},{"col":"value","main":"2.021","sub":""}
]
},
"vconcat": [
{
 "width": 541, "height": 56,
 "data": {"name": "header"},
 "encoding": {"x": {"field": "col", "type": "nominal", "scale": {"type": "point", "domain": ["param", "value"], "range": [26, 486], "padding": 0.52, "align": 0.5}, "axis": {"orient": "bottom", "labels": false, "ticks": false, "title": null, "domainWidth": 3, "domainColor": "black"}}},
 "layer": [
  {"transform": [{"filter": "datum.col == 'param'"}], "mark": {"type": "text", "font": "Liberation Serif", "fontStyle": "italic", "fontSize": 26, "dx": -4, "dy": -2, "color": "black"}, "encoding": {"text": {"field": "main"}}},
  {"transform": [{"filter": "datum.col == 'param'"}], "mark": {"type": "text", "font": "Liberation Serif", "fontStyle": "italic", "fontSize": 16, "dx": 8, "dy": 5, "color": "black"}, "encoding": {"text": {"field": "sub"}}},
  {"transform": [{"filter": "datum.col == 'value'"}], "mark": {"type": "text", "font": "Liberation Serif", "fontSize": 26, "color": "black"}, "encoding": {"text": {"field": "main"}}}
 ]
},
{
 "width": 541, "height": 436,
 "view": {"stroke": "black", "strokeWidth": 2.5},
 "resolve": {"axis": {"x": "independent"}, "scale": {"x": "shared", "y": "shared"}},
 "layer": [
  {"data": {"name": "spec"}, "mark": {"type": "line", "strokeWidth": 1.2},
   "encoding": {
    "x": {"field": "x", "type": "quantitative", "scale": {"domain": [20, 620], "nice": false, "zero": false},
      "axis": {"orient": "bottom", "values": [100, 200, 300, 400, 500, 600], "title": "Field (mT)", "tickSize": 8, "labelPadding": 14, "titlePadding": 12}},
    "y": {"field": "e", "type": "quantitative", "scale": {"domain": [-0.8, 1.2], "nice": false, "zero": false},
      "axis": {"orient": "left", "values": [1.2, 1.0, 0.8, 0.6, 0.4, 0.2, 0, -0.2, -0.4, -0.6, -0.8], "title": "Signal (a.u.)", "labelPadding": 8, "titlePadding": 24,
        "labelExpr": "abs(round(datum.value*10)) % 4 == 0 ? (datum.value < 0 ? '-' : '') + format(abs(datum.value), '.1f') : ''",
        "tickSize": {"condition": {"test": "abs(round(datum.value*10)) % 4 == 0", "value": 8}, "value": 4}}},
    "color": {"datum": "Experimental", "type": "nominal",
      "scale": {"domain": ["Experimental", "Simulation", "Co(acac)₂"], "range": ["#1f6fde", "#ee3e3e", "#4d4d4d"]},
      "legend": {"orient": "none", "legendX": 309, "legendY": 212, "title": null, "symbolType": "stroke", "symbolSize": 1089, "symbolStrokeWidth": {"expr": "datum.value == 'Simulation' ? 5 : 1.5"}, "labelFontSize": 28, "labelFont": "Liberation Sans", "labelColor": "black", "labelOffset": 26, "rowPadding": 8, "padding": 0, "labelLimit": 300}}
   }},
  {"data": {"name": "spec"}, "mark": {"type": "line", "strokeWidth": 1.2},
   "encoding": {
    "x": {"field": "x", "type": "quantitative", "scale": {"domain": [20, 620], "nice": false, "zero": false},
      "axis": {"orient": "top", "values": [67.38, 89.84, 134.76, 192.51, 336.9, 385.03, 449.2], "title": "g", "titleX": 256, "titleY": -37, "titleBaseline": "alphabetic", "titleAlign": "center", "labelPadding": 19,
        "labelExpr": "indexof([10, 5, 2, 1.5], round(6738 / datum.value) / 10) >= 0 ? '' + round(6738 / datum.value) / 10 : ''",
        "tickSize": {"condition": {"test": "indexof([10, 5, 2, 1.5], round(6738 / datum.value) / 10) >= 0", "value": -8}, "value": -4}}},
    "y": {"field": "c", "type": "quantitative", "scale": {"domain": [-0.8, 1.2], "nice": false, "zero": false}},
    "color": {"datum": "Co(acac)₂", "type": "nominal"}
   }},
  {"data": {"name": "sim"}, "mark": {"type": "line", "strokeWidth": 4.5, "interpolate": "monotone"},
   "encoding": {
    "x": {"field": "x", "type": "quantitative", "scale": {"domain": [20, 620], "nice": false, "zero": false}, "axis": null},
    "y": {"field": "y", "type": "quantitative", "scale": {"domain": [-0.8, 1.2], "nice": false, "zero": false}},
    "color": {"datum": "Simulation", "type": "nominal"}
   }}
 ]
}
]
}
